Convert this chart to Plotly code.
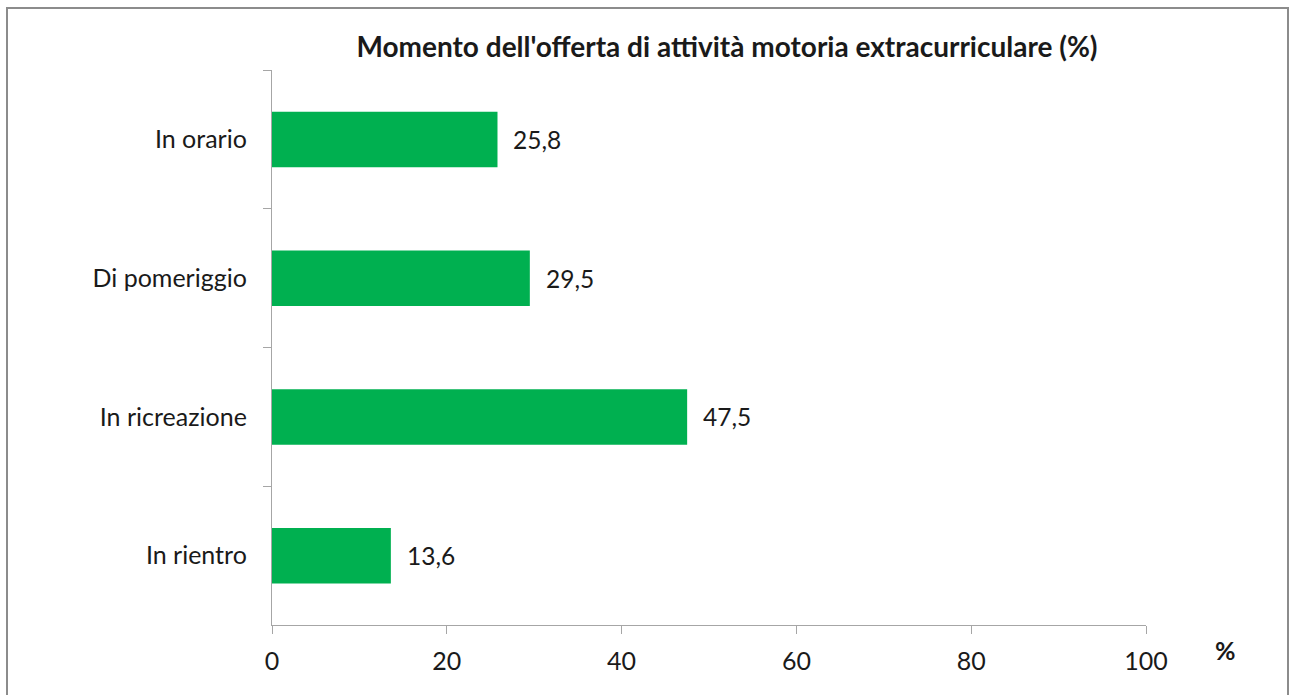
import plotly.graph_objects as go

categories = ["In orario", "Di pomeriggio", "In ricreazione", "In rientro"]
values = [25.8, 29.5, 47.5, 13.6]
x_ticks = [0, 20, 40, 60, 80, 100]
title_text = "Momento dell'offerta di attività motoria extracurriculare (%)"

W, H = 1293, 695
L, R, T, B = 272, 147, 70, 70
pw, ph = W - L - R, H - T - B

def px_x(p):
    return (p - L) / pw

def px_y(p):
    return (H - B - p) / ph

FONT = "Lato, Carlito, Calibri, sans-serif"
TXT = "#1a1a1a"
AX = "#a6a6a6"

fig = go.Figure()
fig.add_trace(go.Bar(
    x=values, y=categories, orientation="h",
    marker=dict(color="#00b050", line=dict(width=0)),
    width=0.4, hoverinfo="skip",
))

for c, v in zip(categories, values):
    fig.add_annotation(x=v, y=c, xref="x", yref="y", text=f"{v:.1f}".replace(".", ","),
                       showarrow=False, xanchor="left", xshift=14,
                       font=dict(family=FONT, size=24.5, color=TXT))

fig.add_annotation(x=px_x(1225), y=px_y(650), xref="paper", yref="paper", text="<b>%</b>",
                   showarrow=False, xanchor="center", yanchor="middle",
                   font=dict(family=FONT, size=25, color=TXT))

fig.add_shape(type="rect", xref="paper", yref="paper",
              x0=px_x(7), x1=px_x(1288), y0=px_y(8), y1=px_y(720),
              line=dict(color="#8c8c8c", width=2), fillcolor="rgba(0,0,0,0)", layer="below")

fig.update_layout(
    width=W, height=H,
    margin=dict(l=L, r=R, t=T, b=B, pad=0),
    paper_bgcolor="white", plot_bgcolor="white",
    separators=",.",
    showlegend=False,
    title=dict(text="<b>" + title_text + "</b>", xref="container", yref="container",
               x=727 / W, y=1 - 47 / H, xanchor="center", yanchor="middle",
               font=dict(family=FONT, size=28, color=TXT)),
    xaxis=dict(range=[0, 100], tickvals=x_ticks, ticktext=[str(t) for t in x_ticks],
               showgrid=False, zeroline=False, showline=True, linecolor=AX, linewidth=1.3,
               ticks="outside", ticklen=8, tickcolor=AX, tickwidth=1.3,
               ticklabelstandoff=6,
               tickfont=dict(family=FONT, size=25, color=TXT), fixedrange=True),
    yaxis=dict(categoryorder="array", categoryarray=categories, autorange="reversed",
               showgrid=False, zeroline=False, showline=True, linecolor=AX, linewidth=1.3,
               ticks="outside", ticklen=8, tickcolor=AX, tickwidth=1.3, tickson="boundaries",
               ticklabelstandoff=19,
               tickfont=dict(family=FONT, size=25, color=TXT), fixedrange=True),
)

fig.write_html("out.html", config={"displayModeBar": False},
               post_script="document.body.style.margin='0';")
